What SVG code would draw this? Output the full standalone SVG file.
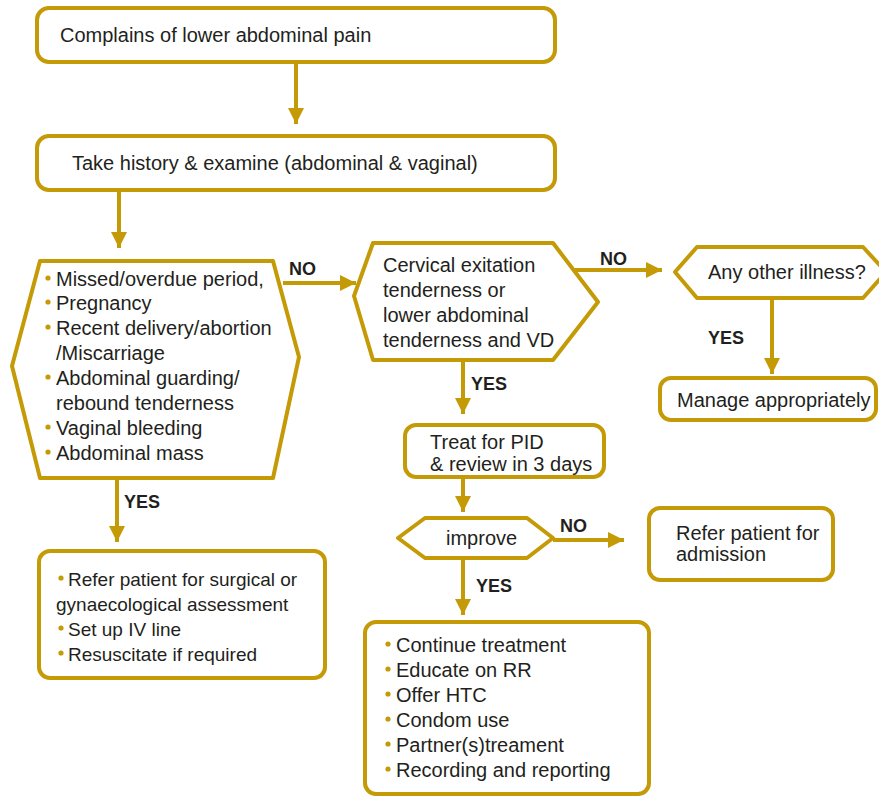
<svg xmlns="http://www.w3.org/2000/svg" width="879" height="796" viewBox="0 0 879 796">
<defs>
<marker id="ah" markerUnits="userSpaceOnUse" markerWidth="16" markerHeight="16" viewBox="0 0 16 16" refX="16" refY="8" orient="auto">
<path d="M0,0 L16,8 L0,16 Z" fill="#C49A06"/>
</marker>
</defs>
<style>
.n{fill:#fff;stroke:#C49A06;stroke-width:4;stroke-linejoin:round}
.c{fill:none;stroke:#C49A06;stroke-width:4}
text{font-family:"Liberation Sans",Arial,sans-serif;font-size:20px;fill:#231F20}
.b{font-weight:bold;font-size:18px}
.s{font-size:19px}
.d{fill:#C49A06}
</style>
<rect width="879" height="796" fill="#fff"/>
<g id="connectors">
<line class="c" x1="296" y1="62" x2="296" y2="124" marker-end="url(#ah)"/>
<line class="c" x1="119" y1="190" x2="119" y2="248" marker-end="url(#ah)"/>
<line class="c" x1="283" y1="283" x2="356" y2="283" marker-end="url(#ah)"/>
<line class="c" x1="575" y1="270" x2="662" y2="270" marker-end="url(#ah)"/>
<line class="c" x1="772" y1="298" x2="772" y2="374" marker-end="url(#ah)"/>
<line class="c" x1="463" y1="361" x2="463" y2="414" marker-end="url(#ah)"/>
<line class="c" x1="463" y1="477" x2="463" y2="512" marker-end="url(#ah)"/>
<line class="c" x1="553" y1="540" x2="624" y2="540" marker-end="url(#ah)"/>
<line class="c" x1="463" y1="558" x2="463" y2="615" marker-end="url(#ah)"/>
<line class="c" x1="117" y1="478" x2="117" y2="542" marker-end="url(#ah)"/>
<text class="b" x="289" y="275">NO</text>
<text class="b" x="600" y="265">NO</text>
<text class="b" x="708" y="344">YES</text>
<text class="b" x="471" y="390">YES</text>
<text class="b" x="560" y="532">NO</text>
<text class="b" x="476" y="592">YES</text>
<text class="b" x="124" y="508">YES</text>
</g>
<g id="n1">
<rect class="n" x="37" y="8" width="518" height="54" rx="12"/>
<text x="60" y="42">Complains of lower abdominal pain</text>
</g>
<g id="n2">
<rect class="n" x="37" y="136" width="518" height="54" rx="12"/>
<text x="72" y="170">Take history &amp; examine (abdominal &amp; vaginal)</text>
</g>
<g id="n3">
<path class="n" d="M40,261 L273,261 L299,357 L273,478 L40,478 L12,366 Z"/>
<circle class="d" cx="48" cy="278" r="2.6"/>
<circle class="d" cx="48" cy="302" r="2.6"/>
<circle class="d" cx="48" cy="327" r="2.6"/>
<circle class="d" cx="48" cy="377" r="2.6"/>
<circle class="d" cx="48" cy="427" r="2.6"/>
<circle class="d" cx="48" cy="452" r="2.6"/>
<text x="56" y="286">Missed/overdue period,</text>
<text x="56" y="310">Pregnancy</text>
<text x="56" y="335">Recent delivery/abortion</text>
<text x="56" y="360">/Miscarriage</text>
<text x="56" y="385">Abdominal guarding/</text>
<text x="56" y="410">rebound tenderness</text>
<text x="56" y="435">Vaginal bleeding</text>
<text x="56" y="460">Abdominal mass</text>
</g>
<g id="n4">
<path class="n" d="M373,243 L553,243 L598,302 L553,360 L373,360 L354,296 Z"/>
<text x="383" y="272">Cervical exitation</text>
<text x="383" y="297">tenderness or</text>
<text x="383" y="322">lower abdominal</text>
<text x="383" y="347">tenderness and VD</text>
</g>
<g id="n5">
<path class="n" d="M697,247 L863,247 L886,272 L863,298 L697,298 L675,272 Z"/>
<text x="708" y="279">Any other illness?</text>
</g>
<g id="n6">
<rect class="n" x="660" y="378" width="216" height="42" rx="11"/>
<text x="677" y="407">Manage appropriately</text>
</g>
<g id="n7">
<rect class="n" x="405" y="425" width="199" height="52" rx="11"/>
<text x="430" y="449">Treat for PID</text>
<text x="430" y="471">&amp; review in 3 days</text>
</g>
<g id="n8">
<path class="n" d="M425,518 L527,518 L553,538 L527,558 L425,558 L398,538 Z"/>
<text x="446" y="545">improve</text>
</g>
<g id="n9">
<rect class="n" x="649" y="508" width="184" height="72" rx="11"/>
<text x="676" y="540">Refer patient for</text>
<text x="676" y="561">admission</text>
</g>
<g id="n10">
<rect class="n" x="365" y="622" width="284" height="172" rx="11"/>
<circle class="d" cx="388" cy="644" r="2.6"/>
<circle class="d" cx="388" cy="669" r="2.6"/>
<circle class="d" cx="388" cy="694" r="2.6"/>
<circle class="d" cx="388" cy="719" r="2.6"/>
<circle class="d" cx="388" cy="744" r="2.6"/>
<circle class="d" cx="388" cy="769" r="2.6"/>
<text x="396" y="652">Continue treatment</text>
<text x="396" y="677">Educate on RR</text>
<text x="396" y="702">Offer HTC</text>
<text x="396" y="727">Condom use</text>
<text x="396" y="752">Partner(s)treament</text>
<text x="396" y="777">Recording and reporting</text>
</g>
<g id="n11">
<rect class="n" x="39" y="551" width="286" height="127" rx="11"/>
<circle class="d" cx="61" cy="578" r="2.6"/>
<circle class="d" cx="61" cy="628" r="2.6"/>
<circle class="d" cx="61" cy="653" r="2.6"/>
<text class="s" x="68" y="586">Refer patient for surgical or</text>
<text class="s" x="56" y="611">gynaecological assessment</text>
<text class="s" x="68" y="636">Set up IV line</text>
<text class="s" x="68" y="661">Resuscitate if required</text>
</g>
</svg>
